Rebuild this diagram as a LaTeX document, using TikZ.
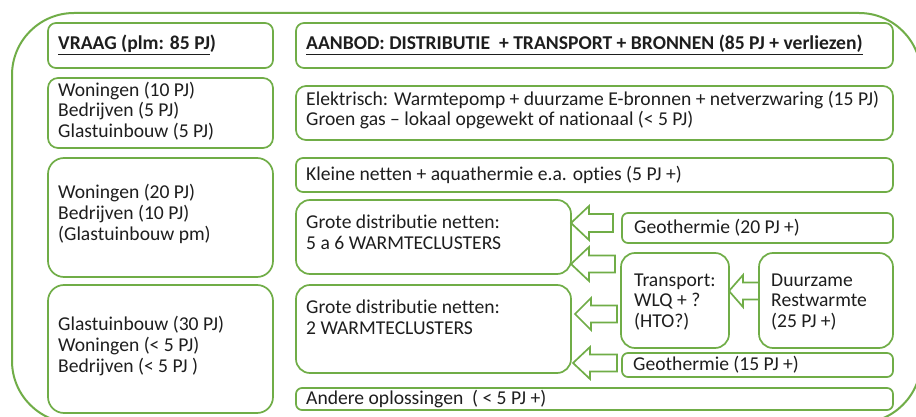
\documentclass[tikz,border=0pt]{standalone}
\usepackage{fontspec}
\setmainfont{Carlito}[Ligatures=NoCommon]
\usetikzlibrary{calc}
\definecolor{grn}{RGB}{112,173,71}
\definecolor{txt}{RGB}{30,30,30}
\newcommand\bx[6]{%
  \node[box, rounded corners=#6pt, minimum width={#4-#2}, minimum height={#5-#3}] (#1) at ({(#2+#4)/2},{(#3+#5)/2}) {};}
\newcommand\barrow[8]{%
  \draw[arr] let \p1=(#2.east), \p2=(#1.west) in
   (\x1+#7pt,-#3pt)
   -- (\x1+#7pt+#6pt,-#3pt+#4pt)
   -- (\x1+#7pt+#6pt,-#3pt+#5pt)
   -- (\x2-#8pt,-#3pt+#5pt)
   -- (\x2-#8pt,-#3pt-#5pt)
   -- (\x1+#7pt+#6pt,-#3pt-#5pt)
   -- (\x1+#7pt+#6pt,-#3pt-#4pt)
   -- cycle;}
\begin{document}
\begin{tikzpicture}[x=1pt,y=-1pt,
  box/.style={draw=grn, line width=1.7pt, fill=white, inner sep=0pt, outer sep=0pt},
  lbl/.style={anchor=west, align=left, inner sep=0pt, text=txt, font=\fontsize{19.6}{20.8}\selectfont},
  arr/.style={draw=grn, line width=1.7pt, fill=white, line join=miter},
  frame/.style={draw=grn, line width=2pt}]
\useasboundingbox (0,0) rectangle (916,417);
\clip (0,0) rectangle (916,417);
\fill[white] (0,0) rectangle (916,417);
\draw[frame, rounded corners=62pt] (12,13) rectangle (921,423);

\bx{vraag}{48}{23}{273}{68}{8}
\bx{aanbod}{296}{23}{893}{68}{8}
\bx{d1}{48}{78}{273}{148}{10}
\bx{elek}{296}{86}{893}{140}{10}
\bx{d2}{48}{158}{273}{277}{16}
\bx{klein}{296}{158}{893}{192}{7}
\bx{d3}{48}{285}{273}{413}{16}
\bx{grote1}{296}{200}{571}{274}{14}
\bx{grote2}{296}{285}{571}{373}{14}
\bx{andere}{296}{388}{893}{410}{6}
\bx{geo20}{622}{213}{893}{243}{6}
\bx{transp}{621}{253}{729}{348}{14}
\bx{duur}{759}{253}{893}{348}{14}
\bx{geo15}{622}{353}{893}{377}{6}

\node[lbl] (vraagt) at (58,45) {\underline{\textbf{VRAAG (plm: 85 PJ}}\textbf{)}};
\node[lbl] (aanbodt) at (306,45) {\underline{\textbf{AANBOD: DISTRIBUTIE\ \ + TRANSPORT + BRONNEN (85 PJ + verliezen)}}};
\node[lbl] (d1t) at (58,111) {Woningen (10 PJ)\\Bedrijven (5 PJ)\\Glastuinbouw (5 PJ)};
\node[lbl] (elekt) at (306,110) {Elektrisch: Warmtepomp + duurzame E-bronnen + netverzwaring (15 PJ)\\Groen gas -- lokaal opgewekt of nationaal (< 5 PJ)};
\node[lbl] (d2t) at (58,214) {Woningen (20 PJ)\\Bedrijven (10 PJ)\\(Glastuinbouw pm)};
\node[lbl] (kleint) at (306,175) {Kleine netten + aquathermie e.a. opties (5 PJ +)};
\node[lbl] (d3t) at (58,346) {Glastuinbouw (30 PJ)\\Woningen (< 5 PJ)\\Bedrijven (< 5 PJ )};
\node[lbl] (grote1t) at (306,232) {Grote distributie netten:\\5 a 6 WARMTECLUSTERS};
\node[lbl] (grote2t) at (306,317) {Grote distributie netten:\\2 WARMTECLUSTERS};
\node[lbl] (anderet) at (306,399) {Andere oplossingen\ \ ( < 5 PJ +)};
\node[lbl] (geo20t) at (634,228) {Geothermie (20 PJ +)};
\node[lbl] (transpt) at (634,302) {Transport:\\WLQ + ?\\(HTO?)};
\node[lbl] (duurt) at (771,302) {Duurzame\\Restwarmte\\(25 PJ +)};
\node[lbl] (geo15t) at (633,365) {Geothermie (15 PJ +)};

\barrow{geo20}{grote1}{223}{17}{9}{18}{0}{9}
\barrow{transp}{grote1}{264}{17}{8.5}{18}{0}{6}
\barrow{transp}{grote2}{314}{16}{8.5}{16}{4}{4}
\barrow{geo15}{grote2}{363}{16}{8.5}{17}{2}{5}
\barrow{duur}{transp}{291}{16}{8.5}{14}{0}{0}
\end{tikzpicture}
\end{document}
